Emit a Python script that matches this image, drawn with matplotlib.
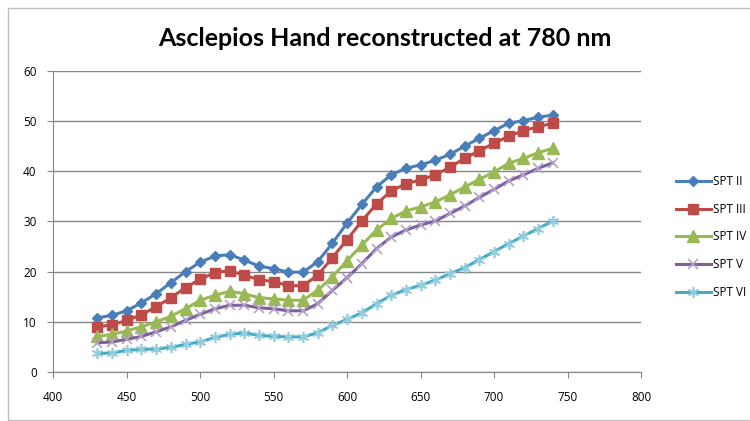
import matplotlib
matplotlib.use("Agg")
import matplotlib.pyplot as plt
from matplotlib.patches import Rectangle

wavelength = [430, 440, 450, 460, 470, 480, 490, 500, 510, 520, 530, 540, 550, 560, 570, 580,
              590, 600, 610, 620, 630, 640, 650, 660, 670, 680, 690, 700, 710, 720, 730, 740]

spt_ii = [10.8, 11.3, 12.2, 13.8, 15.6, 17.8, 20.0, 21.9, 23.1, 23.4, 22.3, 21.1, 20.6, 19.9, 19.9, 22.0,
          25.7, 29.7, 33.4, 36.9, 39.3, 40.6, 41.3, 42.2, 43.4, 45.0, 46.6, 48.1, 49.6, 50.1, 50.8, 51.2]
spt_iii = [9.0, 9.4, 10.3, 11.4, 13.0, 14.8, 16.8, 18.5, 19.8, 20.2, 19.3, 18.4, 18.0, 17.2, 17.2, 19.3,
           22.8, 26.4, 30.1, 33.5, 36.1, 37.5, 38.3, 39.3, 40.8, 42.6, 44.1, 45.6, 47.0, 48.1, 48.9, 49.6]
spt_iv = [7.1, 7.5, 8.2, 9.0, 10.0, 11.1, 12.6, 14.3, 15.3, 16.1, 15.6, 14.8, 14.6, 14.3, 14.3, 16.3,
          19.0, 22.2, 25.3, 28.3, 30.6, 32.1, 32.9, 33.9, 35.3, 36.9, 38.4, 39.9, 41.6, 42.6, 43.7, 44.6]
spt_v = [5.8, 6.0, 6.5, 7.1, 8.0, 9.0, 10.3, 11.5, 12.6, 13.3, 13.3, 12.8, 12.6, 12.2, 12.2, 13.6,
         16.3, 18.8, 21.6, 24.6, 26.9, 28.3, 29.3, 30.1, 31.6, 33.1, 34.8, 36.4, 38.1, 39.3, 40.6, 41.7]
spt_vi = [3.7, 3.8, 4.3, 4.5, 4.6, 4.9, 5.5, 6.0, 6.9, 7.5, 7.8, 7.3, 7.1, 7.0, 7.0, 7.8,
          9.3, 10.5, 11.8, 13.6, 15.3, 16.4, 17.3, 18.3, 19.6, 20.8, 22.4, 24.0, 25.6, 27.1, 28.6, 30.1]

series_names = ["SPT II", "SPT III", "SPT IV", "SPT V", "SPT VI"]
title = "Asclepios Hand reconstructed at 780 nm"

plt.rcParams['font.family'] = ['Open Sans', 'DejaVu Sans']

fig = plt.figure(figsize=(7.5, 4.21), dpi=100)
fig.patches.append(Rectangle((8 / 750, 1 / 421), 750 / 750, 412 / 421, transform=fig.transFigure,
                             fill=False, edgecolor='#bfbfbf', linewidth=1.0))
ax = fig.add_axes([53.3 / 750, 1 - 372 / 421, (641 - 53.3) / 750, (372 - 71) / 421])

styles = [
    dict(color='#4A7EBB', marker='D', markersize=5.5, mfc='#4A7EBB', mec='#4A7EBB'),
    dict(color='#BE4B48', marker='s', markersize=7.5, mfc='#BE4B48', mec='#BE4B48'),
    dict(color='#98B954', marker='^', markersize=8, mfc='#98B954', mec='#98B954'),
    dict(color='#7D60A0', marker='x', markersize=7, mfc='none', mec='#B3A2C7', mew=1.2),
    dict(color='#46AAC5', marker=(6, 2, 0), markersize=8, mfc='none', mec='#93CDDD', mew=1.2),
]
for name, vals, st in zip(series_names, [spt_ii, spt_iii, spt_iv, spt_v, spt_vi], styles):
    ax.plot(wavelength, vals, linewidth=2.2, label=name, **st)

ax.set_xlim(400, 800)
ax.set_ylim(0, 60)
ax.set_xticks(range(400, 801, 50))
ax.set_yticks(range(0, 61, 10))
ax.yaxis.grid(True, color='#868686', linewidth=1.0)
ax.set_axisbelow(True)
for s in ['top', 'right']:
    ax.spines[s].set_visible(False)
for s in ['left', 'bottom']:
    ax.spines[s].set_color('#868686')
ax.tick_params(axis='both', colors='#868686', labelcolor='black', labelsize=8.5, length=4, direction='out')
ax.tick_params(axis='x', pad=10)
ax.tick_params(axis='y', pad=8)

fig.text(385 / 750, 1 - 38 / 421, title, ha='center', va='center', fontsize=18, fontweight='bold',
         family=['Lato', 'DejaVu Sans'])

leg = ax.legend(loc='center left', bbox_to_anchor=(665 / 750, 1 - 237 / 421), bbox_transform=fig.transFigure,
                frameon=False, fontsize=8.5, handlelength=3.0, handletextpad=0.2, labelspacing=1.25)

fig.savefig("out.png", dpi=100)
